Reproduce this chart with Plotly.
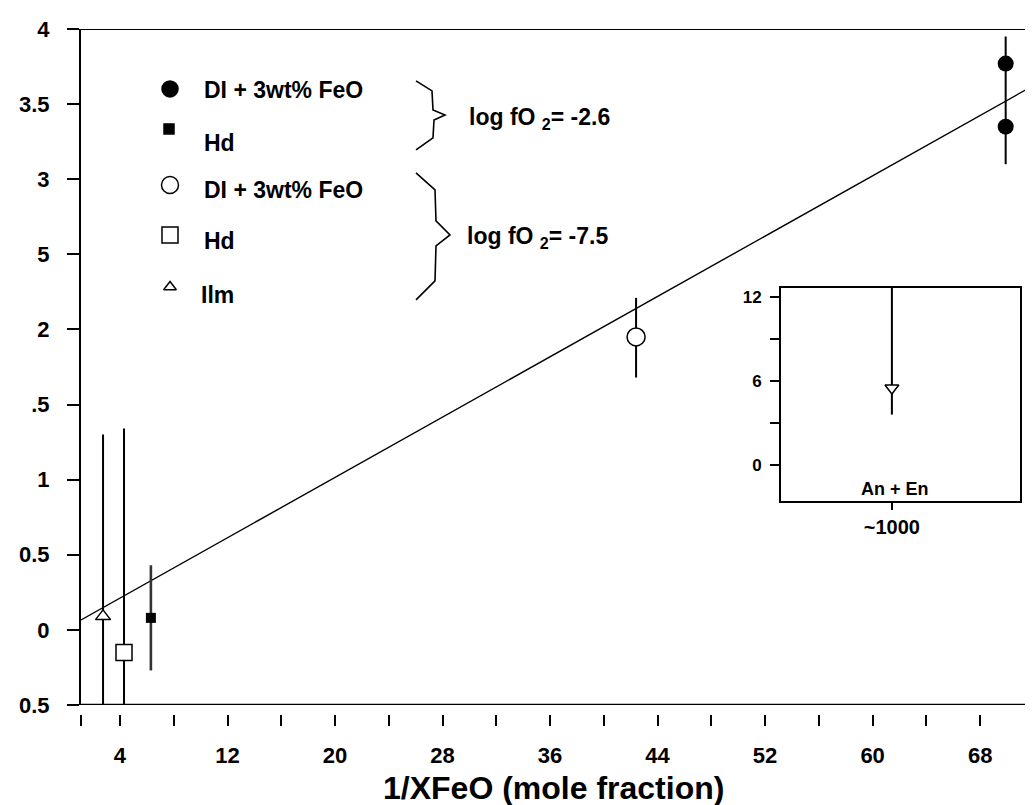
import numpy as np
import plotly.graph_objects as go

# ---------------- data ----------------
# log fO2 = -2.6 (filled symbols)
di_ox_x = [69.9, 69.9]
di_ox_y = [3.77, 3.35]
hd_ox_x = [6.3]
hd_ox_y = [0.08]
# log fO2 = -7.5 (open symbols)
di_red_x = [42.4]
di_red_y = [1.95]
hd_red_x = [4.3]
hd_red_y = [-0.15]
ilm_x = [2.74]
ilm_y = [0.09]

# error bars (x, low, high)
err_x = [69.9, 6.3, 42.4, 4.3, 2.74]
err_lo = [3.10, -0.27, 1.68, -0.5, -0.5]
err_hi = [3.95, 0.43, 2.21, 1.34, 1.30]
err_color = ["black", "#333333", "black", "black", "black"]
err_width = [2, 2.6, 2, 2, 2]

# regression line  y = a + b x
fit_a = 0.011
fit_b = 0.0502

# inset (An + En)
inset_x = [0.464]
inset_y = [5.5]
inset_lo = [3.6]
inset_hi = [12.64]

x_major = [4, 12, 20, 28, 36, 44, 52, 60, 68]
x_major_text = ["4", "12", "20", "28", "36", "44", "52", "60", "68"]
x_minor = [1.1, 8, 16, 24, 32, 40, 48, 56, 64, 72]
y_tickvals = [-0.5, 0, 0.5, 1, 1.5, 2, 2.5, 3, 3.5, 4]
y_ticktext = ["0.5", "0", "0.5", "1", ".5", "2", "5", "3", "3.5", "4"]
inset_major = [0, 6, 12]
inset_major_text = ["0", "6", "12"]
inset_minor = [3, 9]

# ---------------- geometry helpers (pixel -> data / paper) ----------------
XMIN, XMAX = 1.1, 1.1 + 960 / 13.44
YMIN, YMAX = -0.5, 4.0
H_PLOT = 685.0


def px2x(px):
    return XMIN + (px - 73) / 13.44


def py2y(py):
    return YMIN + (697 - py) / 150.2


def px2p(px):
    return (px - 73) / 960.0


def py2p(py):
    return (706 - py) / H_PLOT


FONT = "Liberation Sans, Arial, Helvetica, sans-serif"
BOLD = dict(family=FONT, color="black", weight="bold")

fig = go.Figure()

# regression line
xl = np.array([XMIN, XMAX])
fig.add_trace(go.Scatter(x=xl, y=fit_a + fit_b * xl, mode="lines",
                         line=dict(color="black", width=1.4), hoverinfo="skip"))

# error bars
for x, lo, hi, c, w in zip(err_x, err_lo, err_hi, err_color, err_width):
    fig.add_trace(go.Scatter(x=[x, x], y=[lo, hi], mode="lines",
                             line=dict(color=c, width=w), hoverinfo="skip"))

# markers
fig.add_trace(go.Scatter(x=di_ox_x, y=di_ox_y, mode="markers",
                         marker=dict(symbol="circle", size=16, color="black")))
fig.add_trace(go.Scatter(x=hd_ox_x, y=hd_ox_y, mode="markers",
                         marker=dict(symbol="square", size=10, color="black")))
fig.add_trace(go.Scatter(x=di_red_x, y=di_red_y, mode="markers",
                         marker=dict(symbol="circle", size=18, color="white",
                                     line=dict(color="black", width=1.5))))
fig.add_trace(go.Scatter(x=hd_red_x, y=hd_red_y, mode="markers",
                         marker=dict(symbol="square", size=16, color="white",
                                     line=dict(color="black", width=1.5))))
fig.add_trace(go.Scatter(x=ilm_x, y=ilm_y, mode="markers",
                         marker=dict(symbol="triangle-up", size=13, color="white",
                                     line=dict(color="black", width=1.5))))

# legend keys (drawn on main axes at fixed layout spots)
key_px = [162, 161, 162, 162, 162]
key_py = [81, 121, 177, 227, 279]
key_sym = ["circle", "square", "circle", "square", "triangle-up"]
key_size = [16, 10, 17, 16, 11]
key_fill = ["black", "black", "white", "white", "white"]
for px, py, s, sz, f in zip(key_px, key_py, key_sym, key_size, key_fill):
    fig.add_trace(go.Scatter(x=[px2x(px)], y=[py2y(py)], mode="markers", cliponaxis=False,
                             marker=dict(symbol=s, size=sz, color=f,
                                         line=dict(color="black", width=1.5))))

# inset
fig.add_trace(go.Scatter(x=[inset_x[0], inset_x[0]], y=[inset_lo[0], inset_hi[0]], mode="lines",
                         xaxis="x2", yaxis="y2", line=dict(color="black", width=2)))
fig.add_trace(go.Scatter(x=inset_x, y=inset_y, mode="markers", xaxis="x2", yaxis="y2",
                         marker=dict(symbol="triangle-down", size=12, color="white",
                                     line=dict(color="black", width=1.5))))

# legend texts
texts = [
    (194, 82, "DI + 3wt% FeO"),
    (194, 135, "Hd"),
    (194, 182, "DI + 3wt% FeO"),
    (194, 233, "Hd"),
    (191, 287, "Ilm"),
    (459, 110, "log fO <sub>2</sub>= -2.6"),
    (457, 229, "log fO <sub>2</sub>= -7.5"),
]
annotations = []
for px, py, t in texts:
    annotations.append(dict(x=px2p(px), y=py2p(py), xref="paper", yref="paper", text=t,
                            showarrow=False, xanchor="left", yanchor="middle",
                            font=dict(size=23, **BOLD)))
annotations.append(dict(x=px2p(887), y=py2p(481), xref="paper", yref="paper", text="An + En",
                        showarrow=False, xanchor="center", yanchor="middle",
                        font=dict(size=18, **BOLD)))
annotations.append(dict(x=px2p(545), y=py2p(780), xref="paper", yref="paper",
                        text="1/XFeO (mole fraction)", showarrow=False,
                        xanchor="center", yanchor="middle", font=dict(size=32, **BOLD)))

# braces
brace1 = [(408, 73), (424, 83), (425, 102), (437, 107), (426, 112), (425, 130), (408, 142)]
brace2 = [(408, 165), (427, 182), (428, 213), (442, 227), (428, 238), (427, 273), (408, 292)]
shapes = []
for br in (brace1, brace2):
    path = "M " + " L ".join(f"{px2x(a):.4f},{py2y(b):.4f}" for a, b in br)
    shapes.append(dict(type="path", path=path, xref="x", yref="y",
                       line=dict(color="black", width=1.6)))
# box lines (top and bottom)
shapes.append(dict(type="line", xref="x", yref="y", x0=XMIN, x1=XMAX, y0=YMAX, y1=YMAX,
                   line=dict(color="black", width=2)))
shapes.append(dict(type="line", xref="x", yref="y", x0=XMIN, x1=XMAX, y0=YMIN, y1=YMIN,
                   line=dict(color="black", width=2.5)))

fig.update_layout(
    width=1033, height=805,
    margin=dict(l=73, r=0, t=21, b=99, autoexpand=False),
    paper_bgcolor="white", plot_bgcolor="white",
    showlegend=False,
    annotations=annotations,
    shapes=shapes,
    xaxis=dict(range=[XMIN, XMAX], anchor="free", position=0, showline=False, automargin=False,
               showgrid=False, zeroline=False, ticks="outside", ticklen=11, tickwidth=1.5,
               tickcolor="black", tickvals=x_major, ticktext=x_major_text,
               minor=dict(tickvals=x_minor, ticks="outside", ticklen=11, tickwidth=1.5,
                          tickcolor="black", showgrid=False),
               tickfont=dict(size=22, **BOLD), ticklabelstandoff=11),
    yaxis=dict(domain=[9 / H_PLOT, 1], range=[YMIN, YMAX], showline=True, linewidth=2,
               automargin=False,
               linecolor="black", showgrid=False, zeroline=False, ticks="outside",
               ticklen=12, tickwidth=1.5, tickcolor="black", tickvals=y_tickvals,
               ticktext=y_ticktext, tickfont=dict(size=22, **BOLD), ticklabelstandoff=13),
    xaxis2=dict(domain=[(773 - 73) / 960, (1012 - 73) / 960], range=[0, 1], anchor="y2",
                automargin=False,
                showline=True, mirror=True, linewidth=2, linecolor="black", showgrid=False,
                zeroline=False, ticks="outside", ticklen=7, tickwidth=1.5, tickcolor="black",
                tickvals=inset_x, ticktext=["~1000"], tickfont=dict(size=20, **BOLD)),
    yaxis2=dict(domain=[(706 - 493) / H_PLOT, (706 - 280) / H_PLOT], range=[-2.57, 12.64],
                anchor="x2", showline=True, mirror=True, linewidth=2, linecolor="black",
                automargin=False,
                showgrid=False, zeroline=False, ticks="outside", ticklen=9, tickwidth=1.5,
                tickcolor="black", tickvals=inset_major, ticktext=inset_major_text,
                minor=dict(tickvals=inset_minor, ticks="outside", ticklen=9, tickwidth=1.5,
                           tickcolor="black", showgrid=False),
                tickfont=dict(size=17, **BOLD), ticklabelstandoff=5),
)

fig.write_html("out.html")
